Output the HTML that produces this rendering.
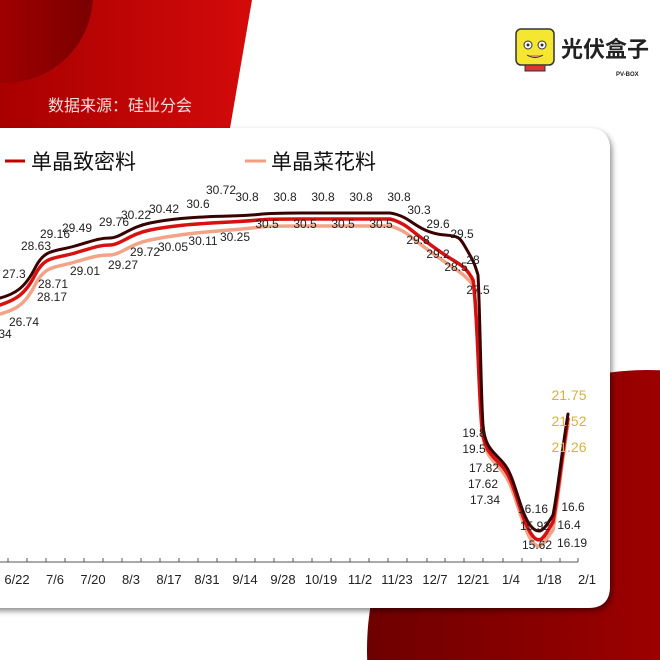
<!DOCTYPE html>
<html><head><meta charset="utf-8"><style>
html,body{margin:0;padding:0;width:660px;height:660px;overflow:hidden;background:#fff;font-family:"Liberation Sans","Noto Sans CJK SC",sans-serif}
</style></head><body>
<svg width="660" height="660" viewBox="0 0 660 660" xmlns="http://www.w3.org/2000/svg" style="position:absolute;left:0;top:0">
<defs>
<linearGradient id="g1" x1="0" x2="1" y1="0" y2="0"><stop offset="0" stop-color="#6e0000"/><stop offset="1" stop-color="#c80000"/></linearGradient>
<linearGradient id="g2" x1="0" x2="1"><stop offset="0" stop-color="#a80000"/><stop offset="1" stop-color="#d40a0a"/></linearGradient>
<linearGradient id="g3" x1="0" x2="1"><stop offset="0" stop-color="#c00000"/><stop offset="1" stop-color="#7a0000"/></linearGradient>
<filter id="sh" x="-10%" y="-10%" width="120%" height="120%"><feDropShadow dx="2" dy="3" stdDeviation="3" flood-color="#000" flood-opacity="0.45"/></filter>
</defs>
<path d="M0,0 L252,0 Q240,70 228,140 L0,140 Z" fill="url(#g2)"/>
<circle cx="5" cy="-5" r="88" fill="url(#g3)"/>
<circle cx="647" cy="650" r="280" fill="url(#g1)"/>
<text x="48" y="111" font-size="16" fill="#f3dede">数据来源：硅业分会</text>
<!-- logo -->
<rect x="516" y="29" width="38" height="36" rx="5" fill="#f5e631" stroke="#333" stroke-width="1.5"/>
<circle cx="528" cy="45" r="4" fill="#fff" stroke="#333"/><circle cx="542" cy="45" r="4" fill="#fff" stroke="#333"/>
<circle cx="528" cy="45" r="1.5" fill="#333"/><circle cx="542" cy="45" r="1.5" fill="#333"/>
<path d="M527 55 Q535 60 543 55" fill="#e88" stroke="#333"/>
<rect x="525" y="65" width="20" height="6" fill="#d33" stroke="#333"/>
<text x="561" y="57" font-size="22" font-weight="bold" fill="#222">光伏盒子</text>
<text x="616" y="76" font-size="6" font-weight="bold" fill="#222">PV-BOX</text>
<!-- card -->
<path d="M-20,128 L588,128 Q610,128 610,150 L610,586 Q610,608 588,608 L-20,608 Z" fill="#fff" filter="url(#sh)"/>
<!-- legend -->
<line x1="5" y1="161" x2="25" y2="161" stroke="#c00000" stroke-width="3"/>
<text x="31" y="169" font-size="21" fill="#111">单晶致密料</text>
<line x1="245" y1="161" x2="266" y2="161" stroke="#f0a080" stroke-width="3"/>
<text x="271" y="169" font-size="21" fill="#111">单晶菜花料</text>
<!-- lines -->
<g fill="none" stroke-linejoin="round" stroke-linecap="round" stroke-width="3.5">
<path stroke="#f2a488" d="M0,314 C15,310 25,305 35,285 S55,268 75,262 S100,255 110,255 S130,244 150,240 S190,233 230,230 S250,226 300,226 L390,226 S400,228 410,236 S430,252 445,262 S465,275 473,285 C477,300 479,400 482,430 S495,460 505,475 S520,520 530,538 S545,540 553,530 C558,500 562,460 568,424"/>
<path stroke="#d81010" d="M0,305 C15,300 25,295 35,275 S55,259 75,253 S100,245 110,245 S130,234 150,230 S190,224 230,222 S250,219 300,219 L390,219 S400,221 410,229 S430,245 445,255 S465,265 473,280 C477,300 479,400 482,428 S495,456 505,470 S520,515 530,532 S545,535 553,522 C558,495 562,455 568,419"/>
<path stroke="#3a0000" stroke-width="3" d="M0,298 C15,294 25,288 35,268 S55,252 75,246 S100,238 110,238 S130,227 150,223 S190,217 230,216 S250,213 300,213 L390,213 S400,214 410,221 S430,234 445,235 S460,238 467,250 S475,265 478,275 C480,310 481,400 483,425 S495,452 505,465 S520,512 530,525 S545,528 553,515 C558,490 562,450 568,414"/>
</g>
<!-- axis -->
<line x1="0" y1="562" x2="578" y2="562" stroke="#555" stroke-width="1"/>
<g stroke="#555" stroke-width="1">
<line x1="8" y1="558" x2="8" y2="562"/><line x1="27" y1="558" x2="27" y2="562"/><line x1="46" y1="558" x2="46" y2="562"/><line x1="65" y1="558" x2="65" y2="562"/><line x1="84" y1="558" x2="84" y2="562"/><line x1="103" y1="558" x2="103" y2="562"/><line x1="122" y1="558" x2="122" y2="562"/><line x1="141" y1="558" x2="141" y2="562"/><line x1="160" y1="558" x2="160" y2="562"/><line x1="179" y1="558" x2="179" y2="562"/><line x1="198" y1="558" x2="198" y2="562"/><line x1="217" y1="558" x2="217" y2="562"/><line x1="236" y1="558" x2="236" y2="562"/><line x1="255" y1="558" x2="255" y2="562"/><line x1="274" y1="558" x2="274" y2="562"/><line x1="293" y1="558" x2="293" y2="562"/><line x1="312" y1="558" x2="312" y2="562"/><line x1="331" y1="558" x2="331" y2="562"/><line x1="350" y1="558" x2="350" y2="562"/><line x1="369" y1="558" x2="369" y2="562"/><line x1="388" y1="558" x2="388" y2="562"/><line x1="407" y1="558" x2="407" y2="562"/><line x1="427" y1="558" x2="427" y2="562"/><line x1="445" y1="558" x2="445" y2="562"/><line x1="464" y1="558" x2="464" y2="562"/><line x1="483" y1="558" x2="483" y2="562"/><line x1="503" y1="558" x2="503" y2="562"/><line x1="522" y1="558" x2="522" y2="562"/><line x1="541" y1="558" x2="541" y2="562"/><line x1="560" y1="558" x2="560" y2="562"/><line x1="578" y1="558" x2="578" y2="562"/>
</g>
<g font-size="13" fill="#222" text-anchor="middle">
<text x="17" y="584">6/22</text><text x="55" y="584">7/6</text><text x="93" y="584">7/20</text><text x="131" y="584">8/3</text><text x="169" y="584">8/17</text><text x="207" y="584">8/31</text><text x="245" y="584">9/14</text><text x="283" y="584">9/28</text><text x="321" y="584">10/19</text><text x="360" y="584">11/2</text><text x="397" y="584">11/23</text><text x="435" y="584">12/7</text><text x="473" y="584">12/21</text><text x="511" y="584">1/4</text><text x="549" y="584">1/18</text><text x="587" y="584">2/1</text>
</g>
<g font-size="12" fill="#222" text-anchor="middle">
<text x="5" y="338">34</text><text x="24" y="326">26.74</text><text x="14" y="278">27.3</text>
<text x="36" y="250">28.63</text><text x="53" y="288">28.71</text><text x="52" y="301">28.17</text>
<text x="55" y="238">29.16</text><text x="77" y="232">29.49</text><text x="85" y="275">29.01</text>
<text x="114" y="226">29.76</text><text x="136" y="219">30.22</text><text x="164" y="213">30.42</text>
<text x="198" y="208">30.6</text><text x="221" y="194">30.72</text>
<text x="247" y="201">30.8</text><text x="285" y="201">30.8</text><text x="323" y="201">30.8</text><text x="361" y="201">30.8</text><text x="399" y="201">30.8</text>
<text x="419" y="214">30.3</text><text x="438" y="228">29.6</text><text x="462" y="238">29.5</text>
<text x="267" y="228">30.5</text><text x="305" y="228">30.5</text><text x="343" y="228">30.5</text><text x="381" y="228">30.5</text>
<text x="418" y="244">29.8</text><text x="438" y="258">29.2</text><text x="456" y="271">28.5</text><text x="473" y="264">28</text><text x="478" y="294">27.5</text>
<text x="123" y="269">29.27</text><text x="145" y="256">29.72</text><text x="173" y="251">30.05</text><text x="203" y="245">30.11</text><text x="235" y="241">30.25</text>
<text x="474" y="437">19.8</text><text x="474" y="453">19.5</text><text x="484" y="472">17.82</text><text x="483" y="488">17.62</text><text x="485" y="504">17.34</text>
<text x="533" y="513">16.16</text><text x="535" y="530">15.92</text><text x="537" y="549">15.62</text>
<text x="573" y="511">16.6</text><text x="569" y="529">16.4</text><text x="572" y="547">16.19</text>
</g>
<g font-size="14" fill="#d8b040" text-anchor="middle">
<text x="569" y="400">21.75</text><text x="569" y="426">21.52</text><text x="569" y="452">21.26</text>
</g>
</svg>
</body></html>
